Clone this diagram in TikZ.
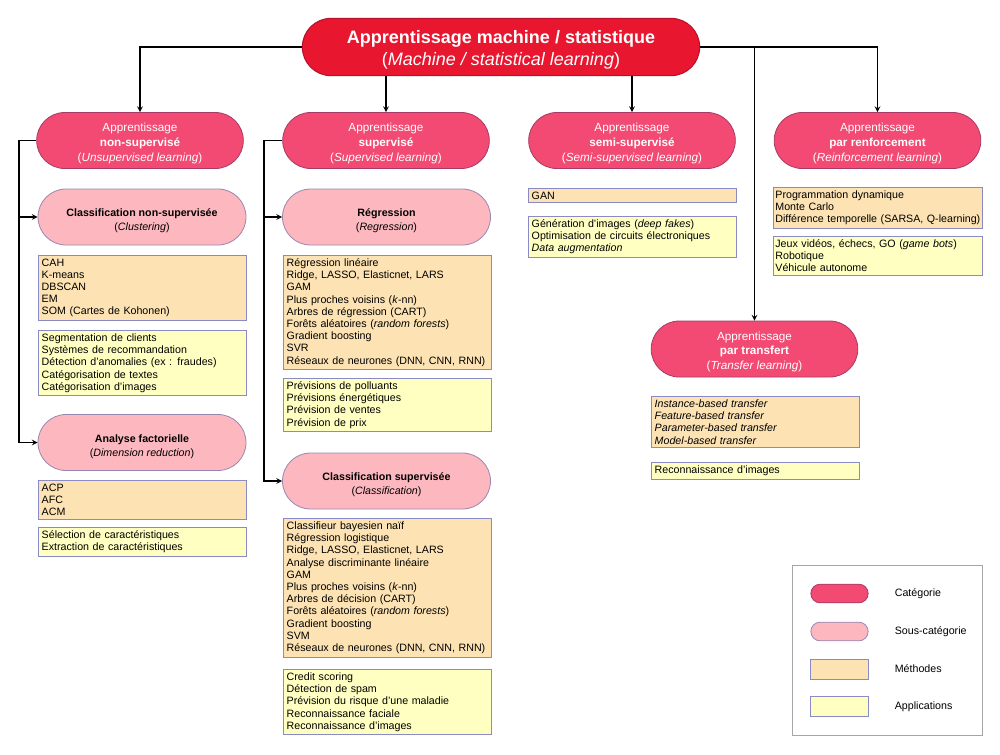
\documentclass[tikz,border=0pt]{standalone}
\usepackage{fontspec}
\setsansfont{Liberation Sans}
\usetikzlibrary{shapes, shapes.misc, arrows}
\usetikzlibrary{positioning}
\tikzset{every picture/.style={/utils/exec={\sffamily}, line width=0.75pt}}

\definecolor{rootred}{HTML}{E8162F}
\definecolor{rootedge}{HTML}{B8102A}
\definecolor{catpink}{HTML}{F24A72}
\definecolor{catedge}{HTML}{A83A66}
\definecolor{subpink}{HTML}{FDB8BF}
\definecolor{subedge}{HTML}{9A86B0}
\definecolor{methfill}{HTML}{FDE3B3}
\definecolor{appfill}{HTML}{FFFFC2}
\definecolor{boxedge}{HTML}{8A8AC4}

% extra room above the first line of a pill
\newcommand{\padtop}[1]{\rule{0pt}{#1}}

\begin{document}
\begin{tikzpicture}[x=0.75pt,y=0.75pt,yscale=-1,xscale=1]

     \tikzstyle{rootnode} = [rounded rectangle,
						fill = rootred,
						draw = rootedge,
						minimum width = 298pt,
						minimum height = 43pt,
						inner sep = 0pt,
						text = white,
						align = center,
						font = \fontsize{13.5}{16.5}\selectfont
						]
     \tikzstyle{categ} = [rounded rectangle,
						fill = catpink,
						draw = catedge,
						line width = 0.6pt,
						minimum width = 155pt,
						minimum height = 42pt,
						inner sep = 0pt,
						text = white,
						align = center,
						font = \fontsize{8.8}{11.2}\selectfont
						]
     \tikzstyle{subcateg} = [rounded rectangle,
						fill = subpink,
						draw = subedge,
						line width = 0.6pt,
						minimum width = 156pt,
						minimum height = 42pt,
						inner sep = 0pt,
						align = center,
						font = \fontsize{8}{10.5}\selectfont
						]
     \tikzstyle{methods} = [rectangle,
						fill = methfill,
						draw = boxedge,
						line width = 0.6pt,
						anchor = north west,
						text width = 151pt,
						align = left,
						inner xsep = 2.5pt,
						inner ysep = 2.5pt,
						font = \fontsize{8}{9.15}\selectfont
						]
     \tikzstyle{apps} = [methods, fill = appfill]
     \tikzstyle{legendtext} = [font = \fontsize{8}{9.15}\selectfont, anchor = west]
     \tikzstyle{arrow} = [line width=0.9pt,->,>=stealth]

\useasboundingbox (0,0) rectangle (1000,754);

% root and categories
\node [rootnode] (root) at (501,47) {\padtop{14.2pt}\textbf{Apprentissage machine / statistique}\\(\textit{Machine / statistical learning})};
\node [categ] (unsup) at (140,140.5) {\padtop{10.8pt}Apprentissage\\\textbf{non-supervisé}\\(\textit{Unsupervised learning})};
\node [categ] (sup) at (386,140.5) {\padtop{10.8pt}Apprentissage\\\textbf{supervisé}\\(\textit{Supervised learning})};
\node [categ] (semi) at (632,140.5) {\padtop{10.8pt}Apprentissage\\\textbf{semi-supervisé}\\(\textit{Semi-supervised learning})};
\node [categ] (reinf) at (877.5,140.5) {\padtop{10.8pt}Apprentissage\\\textbf{par renforcement}\\(\textit{Reinforcement learning})};
\node [categ] (transf) at (754.5,349) {\padtop{10.8pt}Apprentissage\\\textbf{par transfert}\\(\textit{Transfer learning})};

% sub-categories
\node [subcateg] (clust) at (142,217) {\padtop{11.7pt}\textbf{Classification non-supervisée}\\(\textit{Clustering})};
\node [subcateg] (factor) at (142,442.5) {\padtop{11.7pt}\textbf{Analyse factorielle}\\(\textit{Dimension reduction})};
\node [subcateg] (regr) at (386.5,217) {\padtop{11.7pt}\textbf{Régression}\\(\textit{Regression})};
\node [subcateg] (classif) at (386.5,481) {\padtop{11.7pt}\textbf{Classification supervisée}\\(\textit{Classification})};

% methods and applications
\node [methods] (clustm) at (38,255) {CAH\\K-means\\DBSCAN\\EM\\SOM (Cartes de Kohonen)};
\node [apps] (clusta) at (38,330) {Segmentation de clients\\Systèmes de recommandation\\Détection d’anomalies (ex : fraudes)\\Catégorisation de textes\\Catégorisation d’images};
\node [methods] (factm) at (38,480) {ACP\\AFC\\ACM};
\node [apps] (facta) at (38,527) {Sélection de caractéristiques\\Extraction de caractéristiques};

\node [methods] (regrm) at (283,255) {Régression linéaire\\Ridge, LASSO, Elasticnet, LARS\\GAM\\Plus proches voisins (\textit{k}-nn)\\Arbres de régression (CART)\\Forêts aléatoires (\textit{random forests})\\Gradient boosting\\SVR\\Réseaux de neurones (DNN, CNN, RNN)};
\node [apps] (regra) at (283,378) {Prévisions de polluants\\Prévisions énergétiques\\Prévision de ventes\\Prévision de prix};
\node [methods] (classm) at (283,518) {Classifieur bayesien naïf\\Régression logistique\\Ridge, LASSO, Elasticnet, LARS\\Analyse discriminante linéaire\\GAM\\Plus proches voisins (\textit{k}-nn)\\Arbres de décision (CART)\\Forêts aléatoires (\textit{random forests})\\Gradient boosting\\SVM\\Réseaux de neurones (DNN, CNN, RNN)};
\node [apps] (classa) at (283,669) {Credit scoring\\Détection de spam\\Prévision du risque d’une maladie\\Reconnaissance faciale\\Reconnaissance d’images};

\node [methods] (semim) at (528,188) {GAN};
\node [apps] (semia) at (528,216) {Génération d’images (\textit{deep fakes})\\Optimisation de circuits électroniques\\\textit{Data augmentation}};

\node [methods, text width = 154pt, inner xsep = 1.5pt] (reinfm) at (773,187) {Programmation dynamique\\Monte Carlo\\Différence temporelle (SARSA, Q-learning)};
\node [apps, text width = 154pt, inner xsep = 1.5pt] (reinfa) at (773,236) {Jeux vidéos, échecs, GO (\textit{game bots})\\Robotique\\Véhicule autonome};

\node [methods] (transm) at (651,396) {\textit{Instance-based transfer}\\\textit{Feature-based transfer}\\\textit{Parameter-based transfer}\\\textit{Model-based transfer}};
\node [apps] (transa) at (651,462) {Reconnaissance d’images};

% connectors
\draw[arrow] (root.west) -| (unsup.north);
\draw[arrow] (root.east) -| (reinf.north);
\draw[arrow] (root.south -| sup.north) -- (sup.north);
\draw[arrow] (root.south -| semi.north) -- (semi.north);
\draw[arrow] (root.east -| transf.north) -- (transf.north);

\coordinate (trunk1) at (19,140.5);
\draw[arrow] (unsup.west) -- (trunk1) |- (factor.west);
\draw[arrow] (trunk1 |- clust.west) -- (clust.west);
\coordinate (trunk2) at (264,140.5);
\draw[arrow] (sup.west) -- (trunk2) |- (classif.west);
\draw[arrow] (trunk2 |- regr.west) -- (regr.west);

% legend
\node [draw = gray!70, fill = white, line width = 0.6pt, minimum width = 142.5pt, minimum height = 127.5pt] (legend) at (887,650) {};
\node [categ, minimum width = 43pt, minimum height = 14pt] (keycat) at (839.5,593.5) {};
\node [subcateg, minimum width = 43pt, minimum height = 14pt] (keysub) at (839.5,631.5) {};
\node [methods, anchor = center, text width = {}, minimum width = 43pt, minimum height = 15pt] (keymeth) at (839.5,669) {};
\node [apps, anchor = center, text width = {}, minimum width = 43pt, minimum height = 15pt] (keyapp) at (839.5,706.5) {};
\node [legendtext, right = 16pt of keycat] (labcat) {Catégorie};
\node [legendtext, right = 16pt of keysub] (labsub) {Sous-catégorie};
\node [legendtext, right = 16pt of keymeth] (labmeth) {Méthodes};
\node [legendtext, right = 16pt of keyapp] (labapp) {Applications};

\end{tikzpicture}
\end{document}
